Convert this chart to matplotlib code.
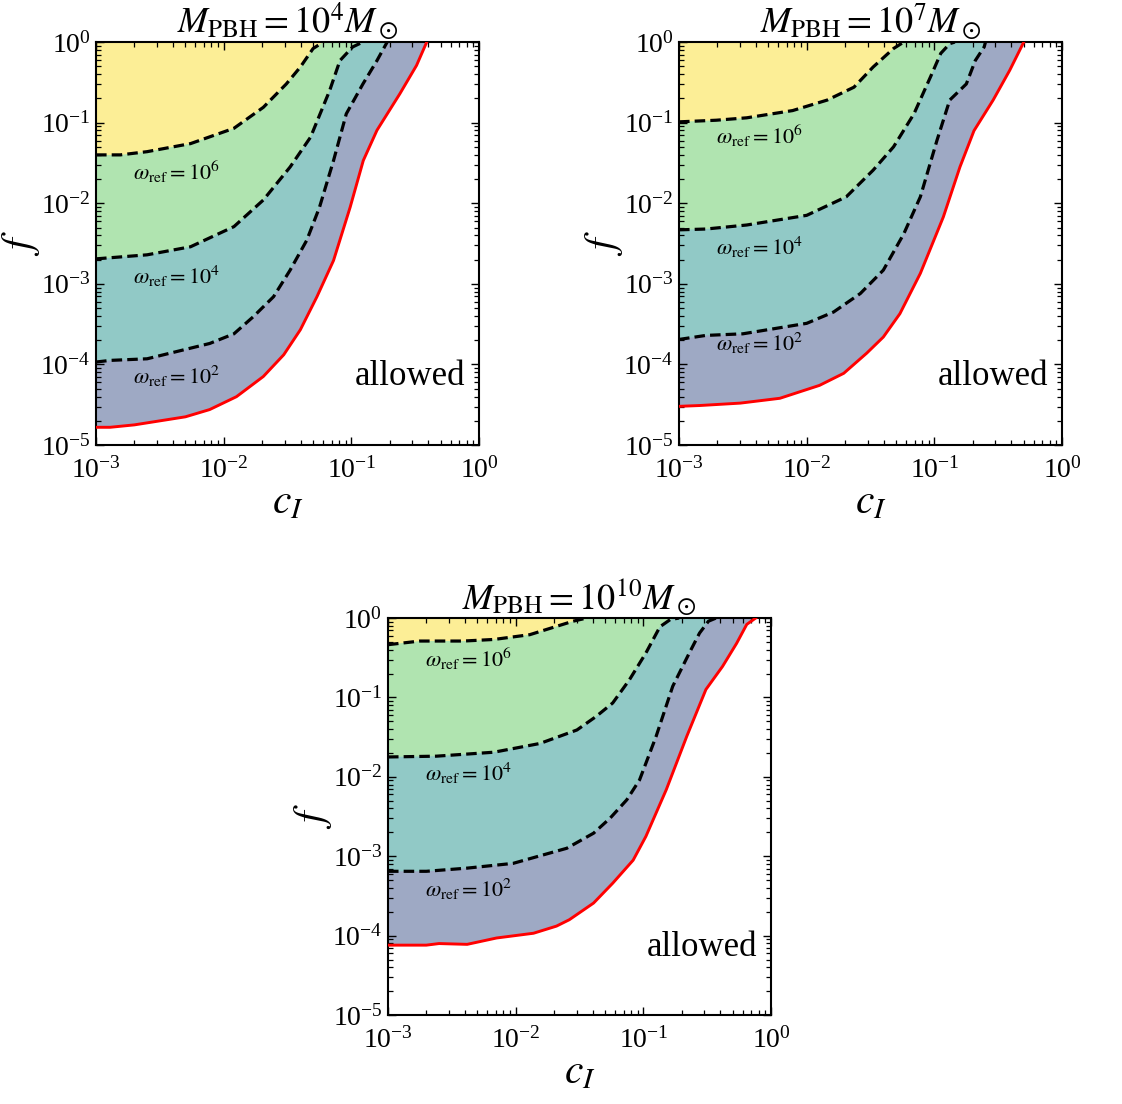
import matplotlib
matplotlib.use("Agg")
import matplotlib.pyplot as plt
import numpy as np
from matplotlib.ticker import LogLocator, NullFormatter

plt.rcParams["font.family"] = ["Liberation Serif", "DejaVu Serif"]
plt.rcParams["mathtext.fontset"] = "stix"

# curves, stored as log10(c_I), log10(f)
# panel 1: M_PBH = 1e4
p1_red_x = [-3.0, -2.89, -2.70, -2.30, -2.11, -1.90, -1.69, -1.53, -1.40, -1.27, -1.14, -1.01, -0.907, -0.80, -0.62, -0.49, -0.41]
p1_red_y = [-4.78, -4.78, -4.75, -4.65, -4.56, -4.40, -4.15, -3.88, -3.57, -3.16, -2.71, -2.05, -1.47, -1.095, -0.64, -0.29, 0.0]
p1_w2_x = [-3.0, -2.89, -2.60, -2.11, -1.92, -1.77, -1.61, -1.48, -1.35, -1.25, -1.14, -1.04, -0.91, -0.80, -0.72]
p1_w2_y = [-3.97, -3.95, -3.93, -3.74, -3.62, -3.41, -3.16, -2.83, -2.46, -2.05, -1.47, -0.89, -0.52, -0.23, 0.0]
p1_w4_x = [-3.0, -2.60, -2.26, -1.92, -1.69, -1.48, -1.32, -1.17, -1.09, -0.99, -0.91]
p1_w4_y = [-2.69, -2.64, -2.54, -2.29, -1.96, -1.55, -1.18, -0.60, -0.23, -0.06, 0.0]
p1_w6_x = [-3.0, -2.81, -2.60, -2.26, -1.92, -1.69, -1.51, -1.40, -1.30, -1.22]
p1_w6_y = [-1.40, -1.40, -1.36, -1.26, -1.07, -0.81, -0.52, -0.31, -0.08, 0.0]

# panel 2: M_PBH = 1e7
p2_red_x = [-3.0, -2.84, -2.52, -2.21, -1.90, -1.71, -1.53, -1.40, -1.27, -1.11, -0.93, -0.80, -0.69, -0.54, -0.41, -0.30]
p2_red_y = [-4.52, -4.51, -4.48, -4.42, -4.26, -4.11, -3.86, -3.66, -3.37, -2.87, -2.17, -1.55, -1.10, -0.72, -0.35, 0.0]
p2_w2_x = [-3.0, -2.79, -2.50, -2.0, -1.79, -1.58, -1.40, -1.24, -1.11, -0.98, -0.88, -0.75, -0.68, -0.61, -0.60]
p2_w2_y = [-3.69, -3.64, -3.62, -3.49, -3.35, -3.12, -2.83, -2.38, -1.92, -1.22, -0.72, -0.52, -0.23, -0.06, 0.0]
p2_w4_x = [-3.0, -2.79, -2.47, -2.0, -1.69, -1.48, -1.32, -1.16, -1.03, -0.95, -0.88, -0.84]
p2_w4_y = [-2.33, -2.32, -2.27, -2.15, -1.92, -1.59, -1.30, -0.89, -0.43, -0.14, -0.02, 0.0]
p2_w6_x = [-3.0, -2.71, -2.47, -2.11, -1.84, -1.63, -1.48, -1.32, -1.24]
p2_w6_y = [-0.99, -0.97, -0.94, -0.85, -0.72, -0.56, -0.31, -0.08, 0.0]

# panel 3: M_PBH = 1e10
p3_red_x = [-3.0, -2.70, -2.60, -2.38, -2.15, -1.86, -1.68, -1.58, -1.39, -1.24, -1.08, -0.98, -0.82, -0.66, -0.51, -0.38, -0.27, -0.19, -0.12]
p3_red_y = [-4.12, -4.12, -4.10, -4.11, -4.03, -3.97, -3.88, -3.80, -3.59, -3.34, -3.05, -2.75, -2.16, -1.49, -0.90, -0.61, -0.32, -0.08, 0.0]
p3_w2_x = [-3.0, -2.70, -2.38, -2.02, -1.60, -1.39, -1.26, -1.13, -1.03, -0.90, -0.77, -0.64, -0.56, -0.49, -0.43]
p3_w2_y = [-3.19, -3.19, -3.15, -3.09, -2.90, -2.71, -2.52, -2.29, -2.04, -1.49, -0.86, -0.44, -0.19, -0.04, 0.0]
p3_w4_x = [-3.0, -2.62, -2.17, -1.81, -1.52, -1.37, -1.24, -1.11, -0.98, -0.87, -0.79, -0.72]
p3_w4_y = [-1.75, -1.74, -1.69, -1.58, -1.41, -1.24, -1.07, -0.78, -0.44, -0.11, -0.02, 0.0]
p3_w6_x = [-3.0, -2.75, -2.41, -2.17, -1.89, -1.68, -1.55, -1.47, -1.44]
p3_w6_y = [-0.336, -0.29, -0.29, -0.27, -0.21, -0.105, -0.04, -0.01, 0.0]

masses = ["4", "7", "10"]
# label heights (log10 f) for omega_ref = 1e6, 1e4, 1e2
p1_label_y = [-1.61, -2.91, -4.15]
p2_label_y = [-1.16, -2.54, -3.74]
p3_label_y = [-0.52, -1.95, -3.42]
omega_labels = [r"$\omega_{\rm ref} = 10^6$", r"$\omega_{\rm ref} = 10^4$", r"$\omega_{\rm ref} = 10^2$"]

c_yellow = "#fcee96"
c_green = "#b0e4b0"
c_teal = "#91c9c6"
c_blue = "#9ea9c4"


def region(ax, lx, ly, color):
    x = list(10.0 ** np.array(lx)) + [1e-3]
    y = list(10.0 ** np.array(ly)) + [1.0]
    ax.fill(x, y, color=color, lw=0, zorder=1)


def draw_panel(ax, red, w2, w4, w6, label_y, mass):
    region(ax, red[0], red[1], c_blue)
    region(ax, w2[0], w2[1], c_teal)
    region(ax, w4[0], w4[1], c_green)
    region(ax, w6[0], w6[1], c_yellow)
    for cx, cy in [w2, w4, w6]:
        ax.plot(10.0 ** np.array(cx), 10.0 ** np.array(cy), color="black",
                lw=2.3, ls=(0, (3.3, 1.6)), zorder=3)
    ax.plot(10.0 ** np.array(red[0]), 10.0 ** np.array(red[1]), color="red", lw=2.1, zorder=3)

    for lab, ly in zip(omega_labels, label_y):
        ax.text(10 ** -2.71, 10 ** ly, lab, fontsize=16, va="center", ha="left", zorder=4)
    ax.text(10 ** -0.11, 10 ** -4.15, "allowed", fontsize=25, va="center", ha="right", zorder=4)

    ax.set_xscale("log")
    ax.set_yscale("log")
    ax.set_xlim(1e-3, 1)
    ax.set_ylim(1e-5, 1)
    ax.xaxis.set_major_locator(LogLocator(base=10, numticks=10))
    ax.yaxis.set_major_locator(LogLocator(base=10, numticks=10))
    ax.xaxis.set_minor_locator(LogLocator(base=10, subs=np.arange(2, 10), numticks=20))
    ax.yaxis.set_minor_locator(LogLocator(base=10, subs=np.arange(2, 10), numticks=20))
    ax.xaxis.set_minor_formatter(NullFormatter())
    ax.yaxis.set_minor_formatter(NullFormatter())
    ax.tick_params(which="both", direction="in", top=True, right=True, labelsize=20)
    ax.tick_params(axis="x", pad=9)
    ax.tick_params(axis="y", pad=4)
    ax.tick_params(which="major", length=6, width=1.0)
    ax.tick_params(which="minor", length=3.5, width=0.9)
    for s in ax.spines.values():
        s.set_linewidth(1.5)
    ax.set_xlabel(r"$c_I$", fontsize=30, labelpad=0)
    ax.set_ylabel(r"$f$", fontsize=30)
    ax.yaxis.set_label_coords(-0.14, 0.5)
    ax.set_title(r"$M_{\rm PBH} = 10^{%s} M_\odot$" % mass, fontsize=26, pad=2)


fig = plt.figure(figsize=(11.22, 11.04), dpi=100)
ax1 = fig.add_axes([0.0856, 0.5969, 0.3414, 0.365])
ax2 = fig.add_axes([0.6052, 0.5969, 0.3414, 0.365])
ax3 = fig.add_axes([0.3458, 0.0806, 0.3414, 0.3596])

draw_panel(ax1, (p1_red_x, p1_red_y), (p1_w2_x, p1_w2_y), (p1_w4_x, p1_w4_y), (p1_w6_x, p1_w6_y), p1_label_y, masses[0])
draw_panel(ax2, (p2_red_x, p2_red_y), (p2_w2_x, p2_w2_y), (p2_w4_x, p2_w4_y), (p2_w6_x, p2_w6_y), p2_label_y, masses[1])
draw_panel(ax3, (p3_red_x, p3_red_y), (p3_w2_x, p3_w2_y), (p3_w4_x, p3_w4_y), (p3_w6_x, p3_w6_y), p3_label_y, masses[2])

fig.savefig("out.png", dpi=100)
